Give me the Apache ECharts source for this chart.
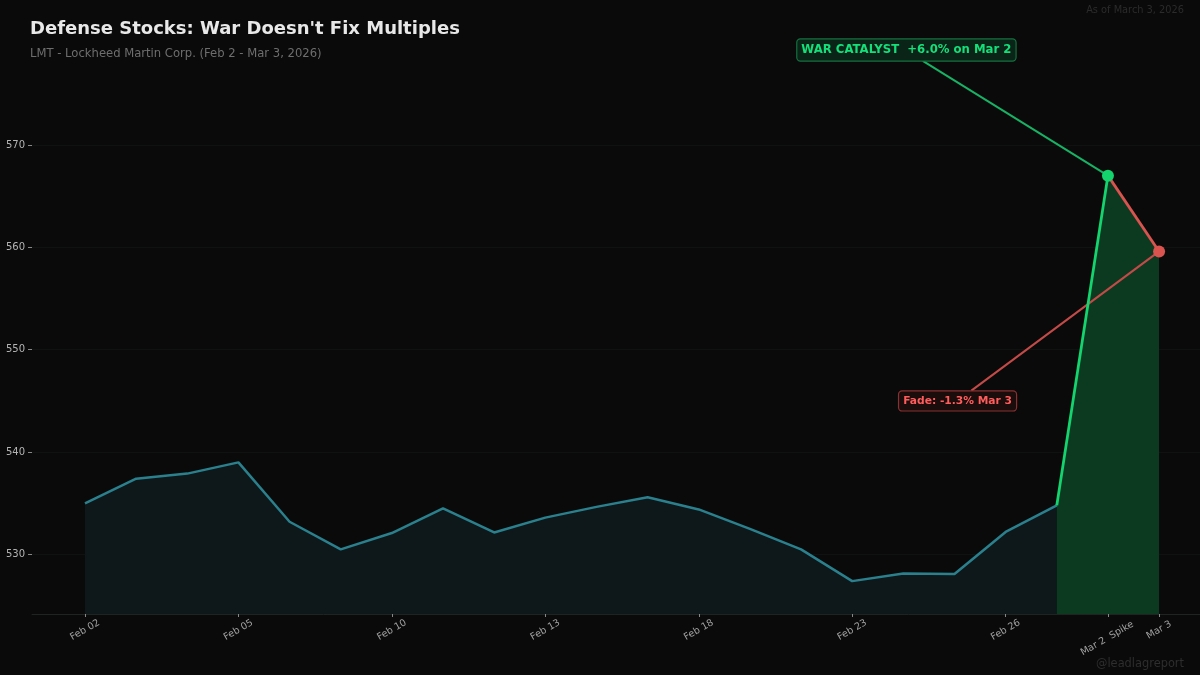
<!DOCTYPE html>
<html>
<head>
<meta charset="utf-8">
<title>Defense Stocks</title>
<script src="https://cdn.jsdelivr.net/npm/echarts@6/dist/echarts.min.js"></script>
<style>
html, body { margin: 0; padding: 0; background: #0a0a0a; }
#container { width: 1200px; height: 675px; }
</style>
</head>
<body>
<div id="container"></div>
<script type="text/javascript">
// closing prices, one per trading day
var dates = ['Feb 02','Feb 03','Feb 04','Feb 05','Feb 06','Feb 09','Feb 10','Feb 11','Feb 12','Feb 13','Feb 16','Feb 17','Feb 18','Feb 19','Feb 20','Feb 23','Feb 24','Feb 25','Feb 26','Feb 27','Mar 2  Spike','Mar 3'];
var prices = [535.0,537.4,537.9,539.0,533.2,530.5,532.1,534.5,532.15,533.6,534.65,535.6,534.4,532.5,530.5,527.4,528.15,528.1,532.2,534.8,567.0,559.6];
var xTickIndex = [0,3,6,9,12,15,18,20,21];
var yTicks = [530,540,550,560,570];

// annotations: [day index, price]
var warLabel = [16.06,579.27];
var warLineStart = [16.38,578.2];
var fadeLabel = [17.06,545.0];
var fadeLineStart = [17.33,546.0];
var warText = 'WAR CATALYST  +6.0% on Mar 2';
var fadeText = 'Fade: -1.3% Mar 3';

function pts(from, to) {
	var out = [];
	for (var i = from; i <= to; i++) out.push([i, prices[i]]);
	return out;
}

var FONT = 'DejaVu Sans';
var myChart = echarts.init(document.getElementById('container'));
var option = {
	animation: false,
	backgroundColor: '#0a0a0a',
	textStyle: { fontFamily: FONT },
	title: [
		{ text: "Defense Stocks: War Doesn't Fix Multiples", left: 30, top: 20, padding: 0, textStyle: { color: '#e8e8e8', fontSize: 18, fontWeight: 'bold', fontFamily: FONT } },
		{ text: 'LMT - Lockheed Martin Corp. (Feb 2 - Mar 3, 2026)', left: 30, top: 48, padding: 0, textStyle: { color: '#6e6e6e', fontSize: 11.6, fontWeight: 'normal', fontFamily: FONT } },
		{ text: 'As of March 3, 2026', right: 16, top: 5, padding: 0, textStyle: { color: '#2b2b2b', fontSize: 9.8, fontWeight: 'normal', fontFamily: FONT } },
		{ text: '@leadlagreport', right: 16, top: 659, padding: 0, textStyle: { color: '#2e2e2e', fontSize: 11.4, fontWeight: 'normal', fontFamily: FONT } }
	],
	grid: { left: 32, right: 0, top: 20, bottom: 61 },
	xAxis: {
		type: 'value',
		min: -1.036,
		max: 21.80,
		axisLine: { show: true, lineStyle: { color: '#1e2422', width: 1 } },
		axisTick: { show: true, length: 3, customValues: xTickIndex, lineStyle: { color: '#888888' } },
		splitLine: { show: false },
		axisLabel: {
			customValues: xTickIndex,
			color: '#a0a0a0',
			fontSize: 9.6,
			rotate: 30,
			align: 'center',
			verticalAlign: 'middle',
			margin: 16,
			formatter: function (v) {
				if (dates[v].length > 6) return '{long|' + dates[v] + '}';
				return dates[v];
			},
			rich: { long: { fontSize: 9.6, color: '#a0a0a0', padding: [14, 10, 0, 0] } }
		}
	},
	yAxis: {
		type: 'value',
		min: 524.19,
		max: 582.2,
		axisLine: { show: false, onZero: false },
		axisTick: { show: true, length: 4, customValues: yTicks, lineStyle: { color: '#888888' } },
		splitLine: { show: true, customValues: yTicks, lineStyle: { color: '#101211', width: 1 } },
		axisLabel: { customValues: yTicks, color: '#b4b4b4', fontSize: 10, margin: 7 }
	},
	series: [
		{
			name: 'LMT',
			type: 'line',
			data: pts(0, 19),
			symbol: 'none',
			lineStyle: { color: '#2a808c', width: 2.5 },
			areaStyle: { color: '#0e171a', opacity: 1, origin: 'start' },
			z: 2
		},
		{
			name: 'spike area',
			type: 'line',
			data: pts(19, 21),
			symbol: 'none',
			lineStyle: { width: 0 },
			areaStyle: { color: '#0c3a21', opacity: 1, origin: 'start' },
			z: 2
		},
		{
			name: 'war leader',
			type: 'line',
			data: [warLineStart, [20, prices[20]]],
			symbol: 'none',
			lineStyle: { color: '#17b264', width: 2 },
			z: 3
		},
		{
			name: 'fade leader',
			type: 'line',
			data: [fadeLineStart, [21, prices[21]]],
			symbol: 'none',
			lineStyle: { color: '#c44a48', width: 2 },
			z: 3
		},
		{
			name: 'spike',
			type: 'line',
			data: pts(19, 20),
			symbol: 'none',
			lineStyle: { color: '#14d46e', width: 2.8 },
			z: 4
		},
		{
			name: 'fade',
			type: 'line',
			data: pts(20, 21),
			symbol: 'none',
			lineStyle: { color: '#d9534f', width: 2.8 },
			z: 4
		},
		{
			name: 'war dot',
			type: 'scatter',
			data: [[20, prices[20]]],
			symbolSize: 12,
			itemStyle: { color: '#14d46e', opacity: 1 },
			z: 5
		},
		{
			name: 'fade dot',
			type: 'scatter',
			data: [[21, prices[21]]],
			symbolSize: 12,
			itemStyle: { color: '#d9534f', opacity: 1 },
			z: 5
		},
		{
			name: 'war label',
			type: 'scatter',
			data: [warLabel],
			symbolSize: 0,
			itemStyle: { opacity: 1 },
			z: 6,
			label: {
				show: true, position: 'inside', formatter: warText,
				color: '#14e07a', fontSize: 11.7, fontWeight: 'bold', fontFamily: FONT,
				backgroundColor: '#0a2418', borderColor: '#14713f', borderWidth: 1.2, borderRadius: 3,
				padding: [5, 4, 4, 4]
			}
		},
		{
			name: 'fade label',
			type: 'scatter',
			data: [fadeLabel],
			symbolSize: 0,
			itemStyle: { opacity: 1 },
			z: 6,
			label: {
				show: true, position: 'inside', formatter: fadeText,
				color: '#ff5c5c', fontSize: 10.7, fontWeight: 'bold', fontFamily: FONT,
				backgroundColor: '#1c0d0d', borderColor: '#8a3030', borderWidth: 1.2, borderRadius: 3,
				padding: [4, 4, 4, 4]
			}
		}
	]
};
myChart.setOption(option);
</script>
</body>
</html>
